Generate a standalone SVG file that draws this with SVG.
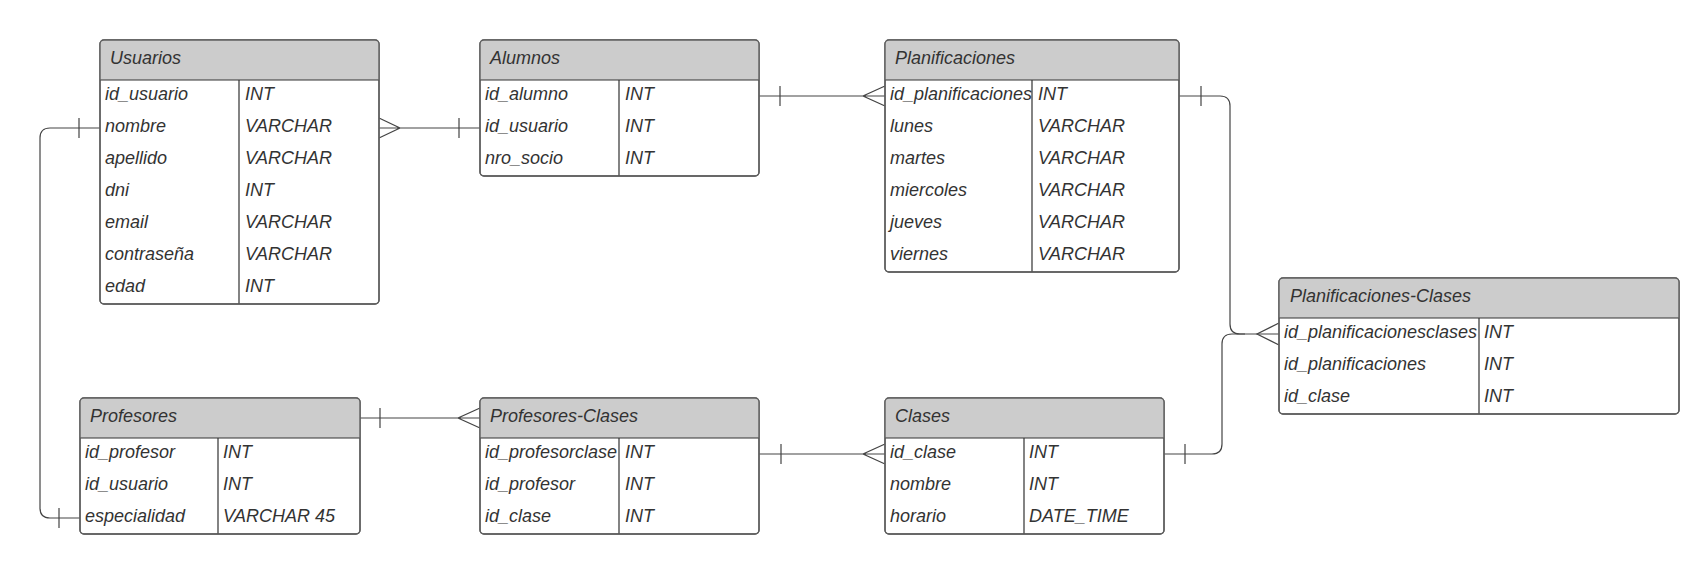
<svg xmlns="http://www.w3.org/2000/svg" width="1700" height="574" viewBox="0 0 1700 574">
<style>
.box{fill:#fff;stroke:#5f5f5f;stroke-width:1.4}
.out{fill:none;stroke:#5f5f5f;stroke-width:1.4}
.hdr{fill:#cccccc;stroke:none}
.ln{stroke:#333;stroke-width:1.2;fill:none}
text{font-family:"Liberation Sans",Arial,sans-serif;font-style:italic;font-size:18px;fill:#333}
.c{fill:none;stroke:#444;stroke-width:1.2}
</style>
<rect width="1700" height="574" fill="#fff"/>

<g id="connectors">
  <!-- Usuarios.nombre to Profesores.especialidad -->
  <path class="c" d="M100,128 H50 Q40,128 40,138 V508 Q40,518 50,518 H80"/>
  <path class="c" d="M79,118 V138 M59,508 V528"/>
  <!-- Usuarios to Alumnos -->
  <path class="c" d="M379,128 H480 M379,118 L400,128 L379,138 M459,118 V138"/>
  <!-- Alumnos to Planificaciones -->
  <path class="c" d="M759,96 H885 M780,86 V106 M885,86 L863,96 L885,106"/>
  <!-- Planificaciones to Planificaciones-Clases -->
  <path class="c" d="M1179,96 H1220 Q1230,96 1230,106 V324 Q1230,334 1240,334 H1279 M1201,86 V106"/>
  <path class="c" d="M1279,323 L1257,334 L1279,345"/>
  <!-- Clases to Planificaciones-Clases -->
  <path class="c" d="M1164,454 H1212 Q1222,454 1222,444 V344 Q1222,334 1232,334 H1245 M1185,444 V464"/>
  <!-- Profesores to Profesores-Clases -->
  <path class="c" d="M360,418 H480 M380,408 V428 M480,408 L458,418 L480,428"/>
  <!-- Profesores-Clases to Clases -->
  <path class="c" d="M759,454 H885 M781,444 V464 M885,444 L863,454 L885,464"/>
</g>

<g id="usuarios" transform="translate(100,40)">
  <rect class="box" x="0" y="0" width="279" height="264" rx="4"/>
  <path class="hdr" d="M0,40 V4 Q0,0 4,0 H275 Q279,0 279,4 V40 Z"/>
  <path class="ln" d="M0,40 H279 M139,40 V264"/>
  <rect class="out" x="0" y="0" width="279" height="264" rx="4"/>
  <text x="10" y="24">Usuarios</text>
  <text x="5" y="60">id_usuario</text><text x="145" y="60">INT</text>
  <text x="5" y="92">nombre</text><text x="145" y="92">VARCHAR</text>
  <text x="5" y="124">apellido</text><text x="145" y="124">VARCHAR</text>
  <text x="5" y="156">dni</text><text x="145" y="156">INT</text>
  <text x="5" y="188">email</text><text x="145" y="188">VARCHAR</text>
  <text x="5" y="220">contraseña</text><text x="145" y="220">VARCHAR</text>
  <text x="5" y="252">edad</text><text x="145" y="252">INT</text>
</g>

<g id="alumnos" transform="translate(480,40)">
  <rect class="box" x="0" y="0" width="279" height="136" rx="4"/>
  <path class="hdr" d="M0,40 V4 Q0,0 4,0 H275 Q279,0 279,4 V40 Z"/>
  <path class="ln" d="M0,40 H279 M139,40 V136"/>
  <rect class="out" x="0" y="0" width="279" height="136" rx="4"/>
  <text x="10" y="24">Alumnos</text>
  <text x="5" y="60">id_alumno</text><text x="145" y="60">INT</text>
  <text x="5" y="92">id_usuario</text><text x="145" y="92">INT</text>
  <text x="5" y="124">nro_socio</text><text x="145" y="124">INT</text>
</g>

<g id="planificaciones" transform="translate(885,40)">
  <rect class="box" x="0" y="0" width="294" height="232" rx="4"/>
  <path class="hdr" d="M0,40 V4 Q0,0 4,0 H290 Q294,0 294,4 V40 Z"/>
  <path class="ln" d="M0,40 H294 M147,40 V232"/>
  <rect class="out" x="0" y="0" width="294" height="232" rx="4"/>
  <text x="10" y="24">Planificaciones</text>
  <text x="5" y="60">id_planificaciones</text><text x="153" y="60">INT</text>
  <text x="5" y="92">lunes</text><text x="153" y="92">VARCHAR</text>
  <text x="5" y="124">martes</text><text x="153" y="124">VARCHAR</text>
  <text x="5" y="156">miercoles</text><text x="153" y="156">VARCHAR</text>
  <text x="5" y="188">jueves</text><text x="153" y="188">VARCHAR</text>
  <text x="5" y="220">viernes</text><text x="153" y="220">VARCHAR</text>
</g>

<g id="planificaciones-clases" transform="translate(1279,278)">
  <rect class="box" x="0" y="0" width="400" height="136" rx="4"/>
  <path class="hdr" d="M0,40 V4 Q0,0 4,0 H396 Q400,0 400,4 V40 Z"/>
  <path class="ln" d="M0,40 H400 M200,40 V136"/>
  <rect class="out" x="0" y="0" width="400" height="136" rx="4"/>
  <text x="11" y="24">Planificaciones-Clases</text>
  <text x="5" y="60">id_planificacionesclases</text><text x="205" y="60">INT</text>
  <text x="5" y="92">id_planificaciones</text><text x="205" y="92">INT</text>
  <text x="5" y="124">id_clase</text><text x="205" y="124">INT</text>
</g>

<g id="profesores" transform="translate(80,398)">
  <rect class="box" x="0" y="0" width="280" height="136" rx="4"/>
  <path class="hdr" d="M0,40 V4 Q0,0 4,0 H276 Q280,0 280,4 V40 Z"/>
  <path class="ln" d="M0,40 H280 M138,40 V136"/>
  <rect class="out" x="0" y="0" width="280" height="136" rx="4"/>
  <text x="10" y="24">Profesores</text>
  <text x="5" y="60">id_profesor</text><text x="143" y="60">INT</text>
  <text x="5" y="92">id_usuario</text><text x="143" y="92">INT</text>
  <text x="5" y="124">especialidad</text><text x="143" y="124">VARCHAR 45</text>
</g>

<g id="profesores-clases" transform="translate(480,398)">
  <rect class="box" x="0" y="0" width="279" height="136" rx="4"/>
  <path class="hdr" d="M0,40 V4 Q0,0 4,0 H275 Q279,0 279,4 V40 Z"/>
  <path class="ln" d="M0,40 H279 M139,40 V136"/>
  <rect class="out" x="0" y="0" width="279" height="136" rx="4"/>
  <text x="10" y="24">Profesores-Clases</text>
  <text x="5" y="60">id_profesorclase</text><text x="145" y="60">INT</text>
  <text x="5" y="92">id_profesor</text><text x="145" y="92">INT</text>
  <text x="5" y="124">id_clase</text><text x="145" y="124">INT</text>
</g>

<g id="clases" transform="translate(885,398)">
  <rect class="box" x="0" y="0" width="279" height="136" rx="4"/>
  <path class="hdr" d="M0,40 V4 Q0,0 4,0 H275 Q279,0 279,4 V40 Z"/>
  <path class="ln" d="M0,40 H279 M139,40 V136"/>
  <rect class="out" x="0" y="0" width="279" height="136" rx="4"/>
  <text x="10" y="24">Clases</text>
  <text x="5" y="60">id_clase</text><text x="144" y="60">INT</text>
  <text x="5" y="92">nombre</text><text x="144" y="92">INT</text>
  <text x="5" y="124">horario</text><text x="144" y="124">DATE_TIME</text>
</g>
</svg>
